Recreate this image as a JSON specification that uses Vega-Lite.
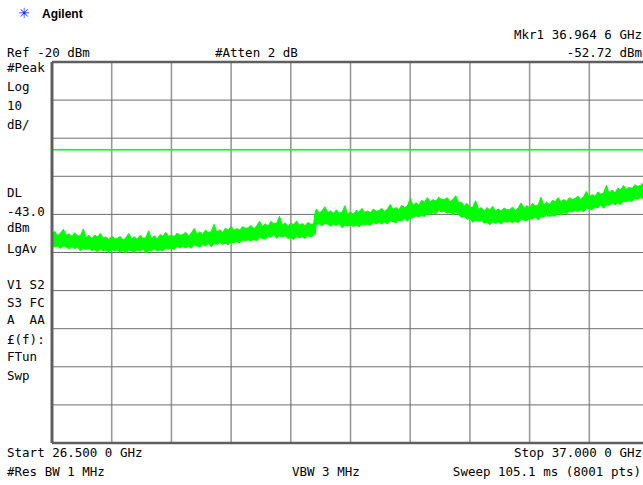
{
  "$schema": "https://vega.github.io/schema/vega-lite/v6.json",
  "width": 591,
  "height": 381,
  "autosize": {"type": "none"},
  "padding": {"left": 52, "top": 62, "right": 0, "bottom": 42},
  "background": "white",
  "data": {"values": [{"one": 1}]},
  "config": {
    "view": {"stroke": null},
    "text": {"font": "DejaVu Sans Mono", "fontSize": 12.5, "color": "#000000", "baseline": "middle", "align": "left"}
  },
  "datasets": {
    "vgrid": [{"f": 27.55}, {"f": 28.6}, {"f": 29.65}, {"f": 30.7}, {"f": 31.75}, {"f": 32.8}, {"f": 33.85}, {"f": 34.9}, {"f": 35.95}],
    "hgrid": [{"db": -30}, {"db": -40}, {"db": -50}, {"db": -60}, {"db": -70}, {"db": -80}, {"db": -90}, {"db": -100}, {"db": -110}],
    "hborder": [{"db": -20}, {"db": -120}],
    "trace": [
      {"f":26.5,"lo":-68.0,"hi":-64.9},{"f":26.55,"lo":-68.6,"hi":-64.5},{"f":26.6,"lo":-68.3,"hi":-65.6},{"f":26.65,"lo":-68.9,"hi":-64.9},
      {"f":26.7,"lo":-68.2,"hi":-63.9},{"f":26.75,"lo":-68.6,"hi":-65.5},{"f":26.8,"lo":-69.1,"hi":-65.1},{"f":26.85,"lo":-68.5,"hi":-65.8},
      {"f":26.9,"lo":-69.0,"hi":-64.8},{"f":26.95,"lo":-68.5,"hi":-65.7},{"f":27.0,"lo":-69.6,"hi":-65.6},{"f":27.05,"lo":-68.9,"hi":-63.8},
      {"f":27.1,"lo":-69.2,"hi":-66.1},{"f":27.15,"lo":-68.9,"hi":-65.5},{"f":27.2,"lo":-69.5,"hi":-66.4},{"f":27.25,"lo":-69.3,"hi":-65.4},
      {"f":27.3,"lo":-69.8,"hi":-66.0},{"f":27.35,"lo":-69.1,"hi":-65.0},{"f":27.4,"lo":-69.6,"hi":-66.3},{"f":27.45,"lo":-69.3,"hi":-65.9},
      {"f":27.5,"lo":-69.9,"hi":-66.6},{"f":27.55,"lo":-69.2,"hi":-65.7},{"f":27.6,"lo":-69.6,"hi":-66.3},{"f":27.65,"lo":-69.4,"hi":-66.3},
      {"f":27.7,"lo":-69.9,"hi":-65.8},{"f":27.75,"lo":-69.5,"hi":-66.8},{"f":27.8,"lo":-70.1,"hi":-66.1},{"f":27.85,"lo":-69.3,"hi":-65.0},
      {"f":27.9,"lo":-69.6,"hi":-66.5},{"f":27.95,"lo":-69.9,"hi":-65.9},{"f":28.0,"lo":-69.3,"hi":-66.6},{"f":28.05,"lo":-69.7,"hi":-65.5},
      {"f":28.1,"lo":-69.1,"hi":-66.3},{"f":28.15,"lo":-70.1,"hi":-66.1},{"f":28.2,"lo":-69.4,"hi":-64.3},{"f":28.25,"lo":-69.6,"hi":-66.5},
      {"f":28.3,"lo":-69.0,"hi":-65.6},{"f":28.35,"lo":-69.6,"hi":-66.5},{"f":28.4,"lo":-69.2,"hi":-65.3},{"f":28.45,"lo":-69.6,"hi":-65.8},
      {"f":28.5,"lo":-68.8,"hi":-64.7},{"f":28.55,"lo":-69.1,"hi":-65.8},{"f":28.6,"lo":-68.8,"hi":-65.4},{"f":28.65,"lo":-69.2,"hi":-65.9},
      {"f":28.7,"lo":-68.4,"hi":-64.9},{"f":28.75,"lo":-68.8,"hi":-65.5},{"f":28.8,"lo":-68.4,"hi":-65.3},{"f":28.85,"lo":-68.8,"hi":-64.7},
      {"f":28.9,"lo":-68.4,"hi":-65.7},{"f":28.95,"lo":-68.9,"hi":-64.9},{"f":29.0,"lo":-68.0,"hi":-63.7},{"f":29.05,"lo":-68.3,"hi":-65.2},
      {"f":29.1,"lo":-68.6,"hi":-64.6},{"f":29.15,"lo":-67.9,"hi":-65.2},{"f":29.2,"lo":-68.3,"hi":-64.1},{"f":29.25,"lo":-67.6,"hi":-64.8},
      {"f":29.3,"lo":-68.5,"hi":-64.5},{"f":29.35,"lo":-67.7,"hi":-62.6},{"f":29.4,"lo":-67.9,"hi":-64.8},{"f":29.45,"lo":-67.4,"hi":-64.0},
      {"f":29.5,"lo":-67.9,"hi":-64.8},{"f":29.55,"lo":-67.5,"hi":-63.6},{"f":29.6,"lo":-68.0,"hi":-64.2},{"f":29.65,"lo":-67.2,"hi":-63.1},
      {"f":29.7,"lo":-67.5,"hi":-64.2},{"f":29.75,"lo":-67.1,"hi":-63.7},{"f":29.8,"lo":-67.5,"hi":-64.2},{"f":29.85,"lo":-66.7,"hi":-63.2},
      {"f":29.9,"lo":-67.0,"hi":-63.7},{"f":29.95,"lo":-66.6,"hi":-63.5},{"f":30.0,"lo":-67.0,"hi":-62.9},{"f":30.05,"lo":-66.5,"hi":-63.8},
      {"f":30.1,"lo":-67.0,"hi":-63.0},{"f":30.15,"lo":-66.1,"hi":-61.8},{"f":30.2,"lo":-66.3,"hi":-63.2},{"f":30.25,"lo":-66.5,"hi":-62.5},
      {"f":30.3,"lo":-65.8,"hi":-63.1},{"f":30.35,"lo":-66.0,"hi":-61.8},{"f":30.4,"lo":-65.3,"hi":-62.5},{"f":30.45,"lo":-66.3,"hi":-62.3},
      {"f":30.5,"lo":-65.6,"hi":-60.5},{"f":30.55,"lo":-65.9,"hi":-62.8},{"f":30.6,"lo":-65.6,"hi":-62.2},{"f":30.65,"lo":-66.3,"hi":-63.2},
      {"f":30.7,"lo":-66.1,"hi":-62.2},{"f":30.75,"lo":-66.6,"hi":-62.8},{"f":30.8,"lo":-65.8,"hi":-61.7},{"f":30.85,"lo":-66.2,"hi":-62.9},
      {"f":30.9,"lo":-65.8,"hi":-62.4},{"f":30.95,"lo":-66.3,"hi":-63.0},{"f":31.0,"lo":-65.6,"hi":-62.1},{"f":31.05,"lo":-65.9,"hi":-62.6},
      {"f":31.1,"lo":-65.6,"hi":-62.5},{"f":31.13,"lo":-65.0,"hi":-59.4},
      {"f":31.15,"lo":-62.7,"hi":-58.6},{"f":31.2,"lo":-62.4,"hi":-59.7},{"f":31.25,"lo":-63.0,"hi":-59.0},{"f":31.3,"lo":-62.3,"hi":-58.0},
      {"f":31.35,"lo":-62.6,"hi":-59.5},{"f":31.4,"lo":-63.1,"hi":-59.1},{"f":31.45,"lo":-62.5,"hi":-59.8},{"f":31.5,"lo":-63.0,"hi":-58.8},
      {"f":31.55,"lo":-62.4,"hi":-59.6},{"f":31.6,"lo":-63.5,"hi":-59.5},{"f":31.65,"lo":-62.8,"hi":-57.7},{"f":31.7,"lo":-63.1,"hi":-60.0},
      {"f":31.75,"lo":-62.7,"hi":-59.3},{"f":31.8,"lo":-63.2,"hi":-60.1},{"f":31.85,"lo":-62.8,"hi":-58.9},{"f":31.9,"lo":-63.3,"hi":-59.5},
      {"f":31.95,"lo":-62.5,"hi":-58.4},{"f":32.0,"lo":-62.8,"hi":-59.5},{"f":32.05,"lo":-62.5,"hi":-59.1},{"f":32.1,"lo":-62.9,"hi":-59.6},
      {"f":32.15,"lo":-62.1,"hi":-58.6},{"f":32.2,"lo":-62.5,"hi":-59.2},{"f":32.25,"lo":-62.1,"hi":-59.0},{"f":32.3,"lo":-62.5,"hi":-58.4},
      {"f":32.35,"lo":-62.0,"hi":-59.3},{"f":32.4,"lo":-62.5,"hi":-58.5},{"f":32.45,"lo":-61.7,"hi":-57.4},{"f":32.5,"lo":-61.9,"hi":-58.8},
      {"f":32.55,"lo":-62.2,"hi":-58.2},{"f":32.6,"lo":-61.5,"hi":-58.8},{"f":32.65,"lo":-61.8,"hi":-57.6},{"f":32.7,"lo":-61.0,"hi":-58.2},
      {"f":32.75,"lo":-61.8,"hi":-57.8},{"f":32.8,"lo":-60.9,"hi":-55.8},{"f":32.85,"lo":-60.9,"hi":-57.8},{"f":32.9,"lo":-60.3,"hi":-56.9},
      {"f":32.95,"lo":-60.7,"hi":-57.6},{"f":33.0,"lo":-60.2,"hi":-56.3},{"f":33.05,"lo":-60.6,"hi":-56.8},{"f":33.1,"lo":-59.7,"hi":-55.6},
      {"f":33.15,"lo":-60.0,"hi":-56.7},{"f":33.2,"lo":-59.5,"hi":-56.1},{"f":33.25,"lo":-59.9,"hi":-56.6},{"f":33.3,"lo":-59.0,"hi":-55.5},
      {"f":33.35,"lo":-59.4,"hi":-56.1},{"f":33.4,"lo":-59.2,"hi":-56.1},{"f":33.45,"lo":-59.7,"hi":-55.6},{"f":33.5,"lo":-59.4,"hi":-56.7},
      {"f":33.55,"lo":-60.1,"hi":-56.1},{"f":33.6,"lo":-59.4,"hi":-55.1},{"f":33.65,"lo":-60.0,"hi":-56.9},{"f":33.7,"lo":-60.8,"hi":-56.8},
      {"f":33.75,"lo":-60.5,"hi":-57.8},{"f":33.8,"lo":-61.3,"hi":-57.1},{"f":33.85,"lo":-61.0,"hi":-58.2},{"f":33.9,"lo":-62.1,"hi":-58.1},
      {"f":33.95,"lo":-61.5,"hi":-56.4},{"f":34.0,"lo":-61.8,"hi":-58.7},{"f":34.05,"lo":-61.6,"hi":-58.2},{"f":34.1,"lo":-62.3,"hi":-59.2},
      {"f":34.15,"lo":-62.1,"hi":-58.2},{"f":34.2,"lo":-62.7,"hi":-58.9},{"f":34.25,"lo":-62.0,"hi":-57.9},{"f":34.3,"lo":-62.4,"hi":-59.1},
      {"f":34.35,"lo":-62.0,"hi":-58.6},{"f":34.4,"lo":-62.5,"hi":-59.2},{"f":34.45,"lo":-61.8,"hi":-58.3},{"f":34.5,"lo":-62.1,"hi":-58.8},
      {"f":34.55,"lo":-61.8,"hi":-58.7},{"f":34.6,"lo":-62.2,"hi":-58.1},{"f":34.65,"lo":-61.7,"hi":-59.0},{"f":34.7,"lo":-62.2,"hi":-58.2},
      {"f":34.75,"lo":-61.3,"hi":-57.0},{"f":34.8,"lo":-61.5,"hi":-58.4},{"f":34.85,"lo":-61.7,"hi":-57.7},{"f":34.9,"lo":-61.0,"hi":-58.3},
      {"f":34.95,"lo":-61.3,"hi":-57.1},{"f":35.0,"lo":-60.6,"hi":-57.8},{"f":35.05,"lo":-61.5,"hi":-57.5},{"f":35.1,"lo":-60.6,"hi":-55.5},
      {"f":35.15,"lo":-60.7,"hi":-57.6},{"f":35.2,"lo":-60.1,"hi":-56.7},{"f":35.25,"lo":-60.6,"hi":-57.5},{"f":35.3,"lo":-60.2,"hi":-56.3},
      {"f":35.35,"lo":-60.5,"hi":-56.7},{"f":35.4,"lo":-59.7,"hi":-55.6},{"f":35.45,"lo":-60.0,"hi":-56.7},{"f":35.5,"lo":-59.5,"hi":-56.1},
      {"f":35.55,"lo":-59.9,"hi":-56.6},{"f":35.6,"lo":-59.1,"hi":-55.6},{"f":35.65,"lo":-59.4,"hi":-56.1},{"f":35.7,"lo":-58.9,"hi":-55.8},
      {"f":35.75,"lo":-59.3,"hi":-55.2},{"f":35.8,"lo":-58.8,"hi":-56.1},{"f":35.85,"lo":-59.3,"hi":-55.3},{"f":35.9,"lo":-58.3,"hi":-54.0},
      {"f":35.95,"lo":-58.5,"hi":-55.4},{"f":36.0,"lo":-58.8,"hi":-54.8},{"f":36.05,"lo":-58.0,"hi":-55.3},{"f":36.1,"lo":-58.3,"hi":-54.1},
      {"f":36.15,"lo":-57.5,"hi":-54.7},{"f":36.2,"lo":-58.4,"hi":-54.4},{"f":36.25,"lo":-57.5,"hi":-52.4},{"f":36.3,"lo":-57.6,"hi":-54.5},
      {"f":36.35,"lo":-57.0,"hi":-53.6},{"f":36.4,"lo":-57.5,"hi":-54.4},{"f":36.45,"lo":-57.0,"hi":-53.1},{"f":36.5,"lo":-57.4,"hi":-53.6},
      {"f":36.55,"lo":-56.5,"hi":-52.4},{"f":36.6,"lo":-56.7,"hi":-53.4},{"f":36.65,"lo":-56.3,"hi":-52.9},{"f":36.7,"lo":-56.6,"hi":-53.3},
      {"f":36.75,"lo":-55.7,"hi":-52.2},{"f":36.8,"lo":-56.0,"hi":-52.7},{"f":36.85,"lo":-55.5,"hi":-52.4},{"f":36.9,"lo":-55.9,"hi":-51.8},
      {"f":36.95,"lo":-55.3,"hi":-52.6},{"f":37.0,"lo":-55.8,"hi":-51.8}
    ]
  },
  "layer": [
    {
      "data": {"name": "vgrid"},
      "mark": {"type": "rule", "color": "#9a9a9a", "strokeWidth": 1.6},
      "encoding": {
        "x": {"field": "f", "type": "quantitative", "scale": {"domain": [26.5, 36.894], "nice": false, "zero": false}, "axis": null}
      }
    },
    {
      "data": {"name": "hgrid"},
      "mark": {"type": "rule", "color": "#6e6e6e", "strokeWidth": 1},
      "encoding": {
        "y": {"field": "db", "type": "quantitative", "scale": {"domain": [-120, -20], "nice": false, "zero": false}, "axis": null}
      }
    },
    {
      "mark": {"type": "rule", "color": "#00ff00", "strokeWidth": 1.5},
      "encoding": {
        "y": {"datum": -43, "type": "quantitative", "scale": {"domain": [-120, -20], "nice": false, "zero": false}, "axis": null}
      }
    },
    {
      "data": {"name": "trace"},
      "mark": {"type": "area", "color": "#00ff00", "opacity": 1, "clip": true, "interpolate": "linear", "stroke": "#00ff00", "strokeWidth": 1},
      "encoding": {
        "x": {"field": "f", "type": "quantitative", "scale": {"domain": [26.5, 36.894], "nice": false, "zero": false}, "axis": null},
        "y": {"field": "lo", "type": "quantitative", "scale": {"domain": [-120, -20], "nice": false, "zero": false}, "axis": null},
        "y2": {"field": "hi"}
      }
    },
    {
      "data": {"name": "hborder"},
      "mark": {"type": "rule", "color": "#5f5f5f", "strokeWidth": 2.5},
      "encoding": {
        "y": {"field": "db", "type": "quantitative", "scale": {"domain": [-120, -20], "nice": false, "zero": false}, "axis": null}
      }
    },
    {
      "mark": {"type": "rule", "color": "#5f5f5f", "strokeWidth": 3},
      "encoding": {
        "x": {"datum": 26.5, "type": "quantitative", "scale": {"domain": [26.5, 36.894], "nice": false, "zero": false}, "axis": null}
      }
    },
    {
      "mark": {"type": "text", "font": "DejaVu Sans", "fontSize": 14, "color": "#1a1aff", "align": "center"},
      "encoding": {
        "x": {"datum": 26.008, "type": "quantitative", "scale": {"domain": [26.5, 36.894], "nice": false, "zero": false}, "axis": null},
        "y": {"datum": -7.4, "type": "quantitative", "scale": {"domain": [-120, -20], "nice": false, "zero": false}, "axis": null},
        "text": {"value": "✳"}
      }
    },
    {
      "mark": {"type": "text", "font": "Liberation Sans", "fontSize": 12, "fontWeight": "bold"},
      "encoding": {
        "x": {"datum": 26.324, "type": "quantitative", "scale": {"domain": [26.5, 36.894], "nice": false, "zero": false}, "axis": null},
        "y": {"datum": -7.4, "type": "quantitative", "scale": {"domain": [-120, -20], "nice": false, "zero": false}, "axis": null},
        "text": {"value": "Agilent"}
      }
    },
    {
      "mark": {"type": "text", "align": "right"},
      "encoding": {
        "x": {"datum": 36.876, "type": "quantitative", "scale": {"domain": [26.5, 36.894], "nice": false, "zero": false}, "axis": null},
        "y": {"datum": -12.91, "type": "quantitative", "scale": {"domain": [-120, -20], "nice": false, "zero": false}, "axis": null},
        "text": {"value": "Mkr1 36.964 6 GHz"}
      }
    },
    {
      "mark": {"type": "text"},
      "encoding": {
        "x": {"datum": 25.709, "type": "quantitative", "scale": {"domain": [26.5, 36.894], "nice": false, "zero": false}, "axis": null},
        "y": {"datum": -17.64, "type": "quantitative", "scale": {"domain": [-120, -20], "nice": false, "zero": false}, "axis": null},
        "text": {"value": "Ref -20 dBm"}
      }
    },
    {
      "mark": {"type": "text"},
      "encoding": {
        "x": {"datum": 29.367, "type": "quantitative", "scale": {"domain": [26.5, 36.894], "nice": false, "zero": false}, "axis": null},
        "y": {"datum": -17.64, "type": "quantitative", "scale": {"domain": [-120, -20], "nice": false, "zero": false}, "axis": null},
        "text": {"value": "#Atten 2 dB"}
      }
    },
    {
      "mark": {"type": "text", "align": "right"},
      "encoding": {
        "x": {"datum": 36.876, "type": "quantitative", "scale": {"domain": [26.5, 36.894], "nice": false, "zero": false}, "axis": null},
        "y": {"datum": -17.64, "type": "quantitative", "scale": {"domain": [-120, -20], "nice": false, "zero": false}, "axis": null},
        "text": {"value": "-52.72 dBm"}
      }
    },
    {
      "mark": {"type": "text"},
      "encoding": {
        "x": {"datum": 25.709, "type": "quantitative", "scale": {"domain": [26.5, 36.894], "nice": false, "zero": false}, "axis": null},
        "y": {"datum": -21.57, "type": "quantitative", "scale": {"domain": [-120, -20], "nice": false, "zero": false}, "axis": null},
        "text": {"value": "#Peak"}
      }
    },
    {
      "mark": {"type": "text"},
      "encoding": {
        "x": {"datum": 25.709, "type": "quantitative", "scale": {"domain": [26.5, 36.894], "nice": false, "zero": false}, "axis": null},
        "y": {"datum": -26.56, "type": "quantitative", "scale": {"domain": [-120, -20], "nice": false, "zero": false}, "axis": null},
        "text": {"value": "Log"}
      }
    },
    {
      "mark": {"type": "text"},
      "encoding": {
        "x": {"datum": 25.709, "type": "quantitative", "scale": {"domain": [26.5, 36.894], "nice": false, "zero": false}, "axis": null},
        "y": {"datum": -31.55, "type": "quantitative", "scale": {"domain": [-120, -20], "nice": false, "zero": false}, "axis": null},
        "text": {"value": "10"}
      }
    },
    {
      "mark": {"type": "text"},
      "encoding": {
        "x": {"datum": 25.709, "type": "quantitative", "scale": {"domain": [26.5, 36.894], "nice": false, "zero": false}, "axis": null},
        "y": {"datum": -36.54, "type": "quantitative", "scale": {"domain": [-120, -20], "nice": false, "zero": false}, "axis": null},
        "text": {"value": "dB/"}
      }
    },
    {
      "mark": {"type": "text"},
      "encoding": {
        "x": {"datum": 25.709, "type": "quantitative", "scale": {"domain": [26.5, 36.894], "nice": false, "zero": false}, "axis": null},
        "y": {"datum": -54.38, "type": "quantitative", "scale": {"domain": [-120, -20], "nice": false, "zero": false}, "axis": null},
        "text": {"value": "DL"}
      }
    },
    {
      "mark": {"type": "text"},
      "encoding": {
        "x": {"datum": 25.709, "type": "quantitative", "scale": {"domain": [26.5, 36.894], "nice": false, "zero": false}, "axis": null},
        "y": {"datum": -59.24, "type": "quantitative", "scale": {"domain": [-120, -20], "nice": false, "zero": false}, "axis": null},
        "text": {"value": "-43.0"}
      }
    },
    {
      "mark": {"type": "text"},
      "encoding": {
        "x": {"datum": 25.709, "type": "quantitative", "scale": {"domain": [26.5, 36.894], "nice": false, "zero": false}, "axis": null},
        "y": {"datum": -63.57, "type": "quantitative", "scale": {"domain": [-120, -20], "nice": false, "zero": false}, "axis": null},
        "text": {"value": "dBm"}
      }
    },
    {
      "mark": {"type": "text"},
      "encoding": {
        "x": {"datum": 25.709, "type": "quantitative", "scale": {"domain": [26.5, 36.894], "nice": false, "zero": false}, "axis": null},
        "y": {"datum": -69.21, "type": "quantitative", "scale": {"domain": [-120, -20], "nice": false, "zero": false}, "axis": null},
        "text": {"value": "LgAv"}
      }
    },
    {
      "mark": {"type": "text"},
      "encoding": {
        "x": {"datum": 25.709, "type": "quantitative", "scale": {"domain": [26.5, 36.894], "nice": false, "zero": false}, "axis": null},
        "y": {"datum": -78.53, "type": "quantitative", "scale": {"domain": [-120, -20], "nice": false, "zero": false}, "axis": null},
        "text": {"value": "V1\u2003S2"}
      }
    },
    {
      "mark": {"type": "text"},
      "encoding": {
        "x": {"datum": 25.709, "type": "quantitative", "scale": {"domain": [26.5, 36.894], "nice": false, "zero": false}, "axis": null},
        "y": {"datum": -83.25, "type": "quantitative", "scale": {"domain": [-120, -20], "nice": false, "zero": false}, "axis": null},
        "text": {"value": "S3\u2003FC"}
      }
    },
    {
      "mark": {"type": "text"},
      "encoding": {
        "x": {"datum": 25.709, "type": "quantitative", "scale": {"domain": [26.5, 36.894], "nice": false, "zero": false}, "axis": null},
        "y": {"datum": -87.72, "type": "quantitative", "scale": {"domain": [-120, -20], "nice": false, "zero": false}, "axis": null},
        "text": {"value": "A\u2003\u2002AA"}
      }
    },
    {
      "mark": {"type": "text"},
      "encoding": {
        "x": {"datum": 25.709, "type": "quantitative", "scale": {"domain": [26.5, 36.894], "nice": false, "zero": false}, "axis": null},
        "y": {"datum": -92.97, "type": "quantitative", "scale": {"domain": [-120, -20], "nice": false, "zero": false}, "axis": null},
        "text": {"value": "£(f):"}
      }
    },
    {
      "mark": {"type": "text"},
      "encoding": {
        "x": {"datum": 25.709, "type": "quantitative", "scale": {"domain": [26.5, 36.894], "nice": false, "zero": false}, "axis": null},
        "y": {"datum": -97.43, "type": "quantitative", "scale": {"domain": [-120, -20], "nice": false, "zero": false}, "axis": null},
        "text": {"value": "FTun"}
      }
    },
    {
      "mark": {"type": "text"},
      "encoding": {
        "x": {"datum": 25.709, "type": "quantitative", "scale": {"domain": [26.5, 36.894], "nice": false, "zero": false}, "axis": null},
        "y": {"datum": -102.42, "type": "quantitative", "scale": {"domain": [-120, -20], "nice": false, "zero": false}, "axis": null},
        "text": {"value": "Swp"}
      }
    },
    {
      "mark": {"type": "text"},
      "encoding": {
        "x": {"datum": 25.709, "type": "quantitative", "scale": {"domain": [26.5, 36.894], "nice": false, "zero": false}, "axis": null},
        "y": {"datum": -122.62, "type": "quantitative", "scale": {"domain": [-120, -20], "nice": false, "zero": false}, "axis": null},
        "text": {"value": "Start 26.500 0 GHz"}
      }
    },
    {
      "mark": {"type": "text", "align": "right"},
      "encoding": {
        "x": {"datum": 36.876, "type": "quantitative", "scale": {"domain": [26.5, 36.894], "nice": false, "zero": false}, "axis": null},
        "y": {"datum": -122.62, "type": "quantitative", "scale": {"domain": [-120, -20], "nice": false, "zero": false}, "axis": null},
        "text": {"value": "Stop 37.000 0 GHz"}
      }
    },
    {
      "mark": {"type": "text"},
      "encoding": {
        "x": {"datum": 25.709, "type": "quantitative", "scale": {"domain": [26.5, 36.894], "nice": false, "zero": false}, "axis": null},
        "y": {"datum": -127.61, "type": "quantitative", "scale": {"domain": [-120, -20], "nice": false, "zero": false}, "axis": null},
        "text": {"value": "#Res BW 1 MHz"}
      }
    },
    {
      "mark": {"type": "text"},
      "encoding": {
        "x": {"datum": 30.721, "type": "quantitative", "scale": {"domain": [26.5, 36.894], "nice": false, "zero": false}, "axis": null},
        "y": {"datum": -127.61, "type": "quantitative", "scale": {"domain": [-120, -20], "nice": false, "zero": false}, "axis": null},
        "text": {"value": "VBW 3 MHz"}
      }
    },
    {
      "mark": {"type": "text", "align": "right"},
      "encoding": {
        "x": {"datum": 36.859, "type": "quantitative", "scale": {"domain": [26.5, 36.894], "nice": false, "zero": false}, "axis": null},
        "y": {"datum": -127.61, "type": "quantitative", "scale": {"domain": [-120, -20], "nice": false, "zero": false}, "axis": null},
        "text": {"value": "Sweep 105.1 ms (8001 pts)"}
      }
    }
  ]
}
